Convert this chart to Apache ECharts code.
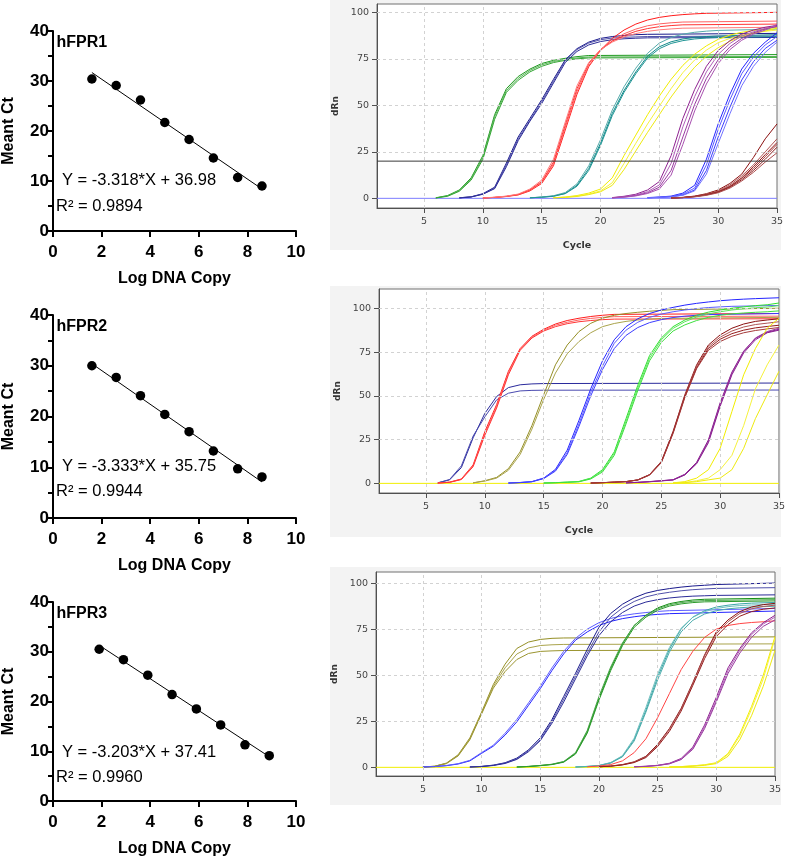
<!DOCTYPE html>
<html><head><meta charset="utf-8">
<script src="https://cdn.jsdelivr.net/npm/echarts@6/dist/echarts.min.js"></script>
<style>html,body{margin:0;padding:0;background:#fff}#c{width:788px;height:858px}</style>
</head><body><div id="c"></div>
<script>
// ---------- Standard curves (left) ----------
const geneNames = ['hFPR1', 'hFPR2', 'hFPR3'];
const equations = ['Y = -3.318*X + 36.98', 'Y = -3.333*X + 35.75', 'Y = -3.203*X + 37.41'];
const r2Values = ['0.9894', '0.9944', '0.9960'];
const p1Log = [1.6, 2.6, 3.6, 4.6, 5.6, 6.6, 7.6, 8.6];
const p1Ct = [30.4, 29.1, 26.2, 21.7, 18.3, 14.6, 10.7, 9.0];
const p1Fit = [[1.6, 31.7], [8.6, 8.4]];
const p2Log = [1.6, 2.6, 3.6, 4.6, 5.6, 6.6, 7.6, 8.6];
const p2Ct = [30.0, 27.7, 24.1, 20.4, 17.0, 13.2, 9.7, 8.1];
const p2Fit = [[1.6, 30.4], [8.6, 7.1]];
const p3Log = [1.9, 2.9, 3.9, 4.9, 5.9, 6.9, 7.9, 8.9];
const p3Ct = [30.5, 28.4, 25.3, 21.4, 18.5, 15.3, 11.3, 9.1];
const p3Fit = [[1.9, 31.3], [8.9, 8.9]];
const leftXTicks = [0, 2, 4, 6, 8, 10];
const leftYTicks = [0, 10, 20, 30, 40];
const rightXTicks = [5, 10, 15, 20, 25, 30, 35];
const rightYTicks = [0, 25, 50, 75, 100];

// ---------- Amplification curves (right) ----------
// each curve: [first cycle, dRn at consecutive cycles, dRn at cycle 35]
const p1Green = [
 [6,[0.3,1.5,4.5,11,23,45,59,65.5,69.5,72.5,74.2,75.3,76.2,76.8],77.3],
 [6,[0.2,1.3,4.2,10.5,22,44,58,64.5,68.8,71.8,73.6,74.7,75.5,76],76.3],
 [6,[0.2,1.1,3.8,9.8,21,42.5,57,63.5,68,71,73,74.2,75,75.5],75.8]];
const p1Navy = [
 [8,[0.3,0.8,2.5,6,19,33,43,53,64,74.5,80.5,84,86,87,87.6,88,88.2],88.7],
 [8,[0.3,0.8,2.3,5.5,18,32,42,52,63,74,80,83.5,85.3,86.2,86.6,86.8,87],87.3],
 [8,[0.2,0.7,2.2,5.2,17,31,41.5,51,62,73,79,82.5,84.3,85.3,85.8,86.1,86.3],86.5]];
const p1Red = [
 [10,[0.2,0.5,1,1.8,4,8,17.5,36.7,56,70.8,79.7,86,90.5,93.7,95.9,97.3,98.2,98.8,99.2,99.5],100],
 [10,[0.2,0.5,1,2,4.3,8.5,18.5,38,57.5,71.5,79.5,84.8,88.5,91,92.8,93.8,94.4,94.8],95.3],
 [10,[0.2,0.5,1.1,2.1,4.6,9,19.5,39.5,59,72.5,80,84.5,87.5,89.8,91.3,92.3,92.9,93.3],93.7],
 [10,[0.2,0.6,1.2,2.3,5,9.8,21,41,60.5,73,80,84,86.8,88.6,89.8,90.6,91.1,91.5],92]];
const p1Teal = [
 [14,[0.3,0.6,1.2,2.7,7,16,29.6,45.7,58,68,76.5,81.5,84.2,85.7,86.6,87,87.3],88],
 [14,[0.3,0.7,1.4,3.1,7.8,17.5,31.5,47.5,60,70,78,83.5,86.5,88.3,89.3,89.9,90.3],91],
 [14,[0.3,0.6,1.1,2.5,6.5,15,28.5,44.5,57,67,75.5,80.5,83.3,84.8,85.7,86.2,86.5],87]];
const p1Yellow = [
 [16,[0.3,0.7,1.5,2.8,5,11,23,34,45,55,64,71.5,77.5,82,85.5,87.8,89.3,90.3,91],92],
 [16,[0.3,0.6,1.2,2.3,4,8.4,18.8,29.6,40,49.6,59,67.6,74.4,79.7,83.7,86,87.8,89,89.8],90.5],
 [16,[0.3,0.5,1,2,3.5,7,15.5,25.5,35.5,45,54.5,63,70.5,76.5,81,84.5,87,88.8,90],91.5]];
const p1Purple = [
 [21,[0.4,1.1,2.2,4.5,9,23,43,58.5,71,79.5,84.8,88.3,90.5,92],93],
 [21,[0.3,0.9,1.8,3.6,7.2,18.8,38.5,54.7,68,77.4,83.3,87.3,89.6,91.4],92.3],
 [21,[0.3,0.7,1.5,3,6,15,33,50.5,64.5,74.5,81.5,86,89,91],92.5],
 [21,[0.2,0.6,1.3,2.6,5,12.5,29,47,61.5,72.5,80,85,88.3,90.5],93.5]];
const p1Blue = [
 [24,[0.4,0.7,1.2,2.8,7,21,40,56,69.5,78,84],89],
 [24,[0.3,0.6,1,2.3,5.5,18,37,53,67,76,82.5],87],
 [24,[0.3,0.5,0.8,1.8,4.5,15,33,49,63.6,73.5,80.6],85],
 [24,[0.3,0.5,0.8,1.6,4,13,29.5,45.5,60.5,71,78.5],84]];
const p1Maroon = [
 [26,[0.2,0.5,1.2,2.5,4.5,8,13,22,32],40],
 [26,[0.2,0.5,1.1,2.2,4,7.2,12,18,25],32],
 [26,[0.2,0.4,1,1.9,3.5,6.5,11,17,23.5],30],
 [26,[0.2,0.4,1,2,3.6,6.3,10.8,16,22.4],29],
 [26,[0.2,0.4,0.9,1.8,3.3,6,10,15,21],27.5],
 [26,[0.2,0.4,0.8,1.6,3,5.5,9.3,14,19.5],24.5]];
const p1Threshold = 20;

const p2Navy = [
 [6,[0.3,2,9,26,40,49.6,54.7,56.3,56.8,57],57.3],
 [6,[0.3,2.2,10,27,38,47.7,51.5,52.8,53.1,53.2],53.3]];
const p2Red = [
 [6,[0.2,0.7,2.5,10.5,29.6,45,64,77,84,88,91,93,94.3,95.3,96,96.5],97],
 [6,[0.2,0.6,2.3,10,28.5,44,63,76.5,83.5,87.5,90.3,92,93.3,94.2,94.8,95.2],95.5],
 [6,[0.2,0.6,2.2,9.5,27.5,43,62,76,83,87,89.5,91.2,92.3,93,93.5,93.8],94]];
const p2Olive = [
 [9,[0.3,1.5,3.4,8.4,18,33,50.6,67.7,79,86.7,91.4,94.3,96,97,97.7,98.3,98.8,99.2],100],
 [9,[0.3,1.3,3,7.5,16.5,31,48,63,74,81,86,89.5,91.3,92.5,93.3,93.8,94.2],94.8]];
const p2Blue = [
 [12,[0.2,0.5,1,3,8,19,36,54,70,82,89.5,94,97,99,100.5,101.8,102.8,103.6,104.3,104.8,105.2,105.5],106],
 [12,[0.2,0.5,1,3,7.5,17.5,34,52,67,80,87.5,92,94.8,96.7,98,99,99.8,100.4,100.8,101.1],101.6],
 [12,[0.2,0.4,0.9,2.7,7,16.5,32.5,50,65,77,84.5,89,91.8,93.5,94.7,95.5,96,96.4],97]];
const p2Lime = [
 [15,[0.2,0.4,0.7,1.1,3,7.8,18,37,56,73,83,89.5,93.3,96,97.8,99,100,100.8,101.5,102],103],
 [15,[0.2,0.4,0.7,1,2.8,7.2,17,35.5,54.5,71.5,82,88.5,92.3,95,96.8,98,99,99.7,100.3,100.7],101.5],
 [15,[0.2,0.4,0.6,0.9,2.5,6.5,16,34,53,70,80.5,87,90.5,93,94.8,96,96.8,97.3,97.7,98],98.5]];
const p2Maroon = [
 [19,[0.2,0.4,0.7,1,2,5,12.5,29.7,50.6,67.7,79,84.8,88.6,91,92.5,93.3],94],
 [19,[0.2,0.4,0.7,1,2,5,12.3,29.2,50,67,78,83.5,87,89.3,90.7,91.5],92.3],
 [19,[0.2,0.4,0.7,1,1.9,4.8,12,29,49.5,66,77,82.3,85.5,87.5,88.8,89.6],90.3],
 [19,[0.2,0.4,0.7,1,1.9,4.7,11.8,28.5,49,65.5,76,81,84,86,87.3,88.2],89]];
const p2Purple = [
 [22,[0.3,0.6,1,1.5,2.1,5.2,12,24.8,46,63.5,75.5,82.8,86.3],88],
 [22,[0.3,0.6,1,1.5,2,5,11.6,24,45,63,75.3,83,86.7],88.6],
 [22,[0.3,0.5,0.9,1.4,1.9,4.8,11.2,23.2,44,62,74.5,82,86],87.5]];
const p2Yellow = [
 [26,[0.3,1,3,7.8,20,41,62,77,88.6],94.3],
 [26,[0.2,0.5,1.5,3,7.8,16,33,54,67.7],79],
 [26,[0.2,0.4,1,2,3,7.8,20,37,50.6],64]];

const p3Olive = [
 [5,[0.2,0.6,2.3,6.8,16,30,45,56,64.5,68,69.4,70,70.2],70.8],
 [5,[0.2,0.6,2.2,6.5,15.5,29.5,44,54,61.5,64.8,66.1,66.5,66.7],67],
 [5,[0.2,0.5,2,6.2,15,29,43,52,58.5,61.8,62.9,63.2,63.4],63.6]];
const p3Blue = [
 [5,[0.2,0.4,0.9,1.8,3.5,7.6,11.5,17.5,24.7,33.7,42.7,52.6,61.6,69,73.5,77,79.2,80.7,81.7,82.5,83,83.4],84.8],
 [5,[0.2,0.4,1,2,3.8,8,12,18.5,26,35,44,54,63,70,75,78.5,80.8,82.3,83.3,84,84.6,85],86.2]];
const p3Navy = [
 [9,[0.2,0.5,1.2,2.5,5,9.5,16,26,38.5,51,64,76,83.5,88.5,92,94.5,96,97,97.8,98.4,98.8,99.2],100],
 [9,[0.2,0.5,1.1,2.3,4.6,9,15,25,37,49.5,62,73.5,81.5,86.5,90,92.5,94,95,95.8,96.4,96.8,97.1],97.5],
 [9,[0.2,0.4,1,2.1,4.3,8.5,14.5,24,35.5,48,60.5,71.5,79,84,87.5,89.7,91,91.9,92.5,92.9,93.1,93.3],93.6]];
const p3Green = [
 [13,[0.2,0.5,1,1.6,3,7.6,19.3,37.4,53.6,67,77,82.5,86.5,88.8,90,90.8,91.2],91.8],
 [13,[0.2,0.5,1,1.7,3.2,8,20,38.5,54.5,67.5,77,82.3,86,88.2,89.4,90.1,90.5],91],
 [13,[0.2,0.4,0.9,1.5,2.8,7.2,18.5,36.5,52.5,66,76,81.5,85.3,87.5,88.7,89.4,89.8],90.3]];
const p3Teal = [
 [18,[0.2,0.5,1,2.5,6,15,31,49,64,75,81.5,85,87,88,88.7,89.1],89.5],
 [18,[0.2,0.5,1,2.6,6.3,15.8,32.5,50.5,65,75.5,81.5,84.5,86.2,87.2,87.8,88.1],88.5],
 [18,[0.2,0.4,0.9,2.3,5.7,14.3,30,47.5,62.5,73.5,79.8,83.2,85,86,86.6,87],87.4]];
const p3Red = [
 [19,[0.3,0.7,1.5,3.5,8,15.5,27,40,53,63,70.5,75,77,78,78.6,79],79.5]];
const p3Maroon = [
 [20,[0.3,0.7,1.5,3,6,12.5,21,32,46,61,73.5,80,84.5,87,88.3],89],
 [20,[0.3,0.7,1.4,2.8,5.7,12,20.5,31.5,45.5,60.5,72.5,79,83.5,86,87.3],88],
 [20,[0.3,0.6,1.3,2.6,5.3,11.3,19.5,30.5,44.5,59,71,77.5,82,84.5,85.8],86.5]];
const p3Purple = [
 [23,[0.3,0.6,1.1,2.2,4.8,11,23,38,54,64.5,73,78.5],82.5],
 [23,[0.3,0.5,1,2,4.4,10.3,22,36.5,52.5,63.5,72,77.8],81.5],
 [23,[0.3,0.5,1,1.9,4.2,9.8,21,35.5,51,62,70.5,76.5],80]];
const p3Yellow = [
 [26,[0.2,0.4,0.8,1.4,2.5,7.5,18,33,50],71],
 [26,[0.2,0.4,0.8,1.3,2.3,7,17,31.5,48],70],
 [26,[0.2,0.3,0.6,1.1,2,6,15,28,44],63.5]];

// ---------- styles ----------
const TONES = {
  green: ['#1f9a1f', '#55b355', '#34a634'],
  navy: ['#1a1a8c', '#5050aa', '#2b2b98'],
  red: ['#ff1c1c', '#ff6060', '#ff3434', '#ff7a7a'],
  teal: ['#128a8a', '#55abab', '#1f9494'],
  yellow: ['#f2ee00', '#f6f23c', '#eeea10'],
  purple: ['#8e2090', '#b060b8', '#9a3aa0', '#a850b0'],
  blue: ['#2424ff', '#5c5cff', '#3c3cff', '#7272ff'],
  maroon: ['#8b1010', '#b05555', '#961c1c', '#a53a3a', '#8b2020', '#ad4c4c'],
  olive: ['#958f25', '#aaa44c', '#9b9530'],
  lime: ['#2ee02e', '#5ce85c', '#3ee03e'],
  navy2: ['#2a2a9c', '#4a4ab0'],
  green3: ['#128e12', '#4ca84c', '#2a9a2a'],
  teal3: ['#3aa6a6', '#70c0c0', '#4aacac'],
  red3: ['#ff4545'],
  purple2: ['#84148a', '#9a3aa0', '#8a1e90']
};
const PANELS = [
  {groups: [['green', p1Green], ['navy', p1Navy], ['red', p1Red], ['teal', p1Teal], ['yellow', p1Yellow], ['purple', p1Purple], ['blue', p1Blue], ['maroon', p1Maroon]],
   base: '#7c7cff', ymin: -5.2, ymax: 104.5, grid: {left: 377, top: 4, width: 400, height: 204}, cycle: true, bg: [0, 250]},
  {groups: [['navy2', p2Navy], ['red', p2Red], ['olive', p2Olive], ['blue', p2Blue], ['lime', p2Lime], ['maroon', p2Maroon], ['purple2', p2Purple], ['yellow', p2Yellow]],
   base: '#f0ee00', ymin: -5.5, ymax: 111, grid: {left: 379, top: 289, width: 401, height: 204}, cycle: true, bg: [286, 537]},
  {groups: [['olive', p3Olive], ['blue', p3Blue], ['navy', p3Navy], ['green3', p3Green], ['teal3', p3Teal], ['red3', p3Red], ['maroon', p3Maroon], ['purple', p3Purple], ['yellow', p3Yellow]],
   base: '#f0ee00', ymin: -4.7, ymax: 106, grid: {left: 376, top: 572, width: 399, height: 204}, cycle: false, bg: [567, 805]}
];
const LEFT = [
  {log: p1Log, ct: p1Ct, fit: p1Fit, grid: {left: 52, top: 31, width: 244, height: 200}, gene: 42.7, eq: 180.3, r2: 206.7},
  {log: p2Log, ct: p2Ct, fit: p2Fit, grid: {left: 52, top: 315, width: 244, height: 203}, gene: 326.7, eq: 466.3, r2: 491.7},
  {log: p3Log, ct: p3Ct, fit: p3Fit, grid: {left: 52, top: 602, width: 244, height: 201}, gene: 614, eq: 752.3, r2: 777.7}
];

const FONT = 'Liberation Sans, Arial, sans-serif';
const SFONT = 'DejaVu Sans, Verdana, sans-serif';
const grids = [], xAxes = [], yAxes = [], series = [], titles = [], graphics = [];

LEFT.forEach((p, i) => {
  grids.push(Object.assign({containLabel: false}, p.grid));
  xAxes.push({gridIndex: i, type: 'value', min: leftXTicks[0], max: leftXTicks[leftXTicks.length - 1], interval: leftXTicks[1] - leftXTicks[0],
    axisLine: {onZero: false, lineStyle: {color: '#000', width: 2}},
    axisTick: {length: 6, lineStyle: {color: '#000', width: 2}},
    axisLabel: {color: '#000', fontWeight: 'bold', fontSize: 17, fontFamily: FONT, margin: 13},
    splitLine: {show: false},
    name: 'Log DNA Copy', nameLocation: 'middle', nameGap: 40,
    nameTextStyle: {color: '#000', fontWeight: 'bold', fontSize: 16, fontFamily: FONT}});
  yAxes.push({gridIndex: i, type: 'value', min: leftYTicks[0], max: leftYTicks[leftYTicks.length - 1], interval: leftYTicks[1] - leftYTicks[0],
    axisLine: {onZero: false, lineStyle: {color: '#000', width: 2}},
    axisTick: {length: 5, lineStyle: {color: '#000', width: 2}},
    minorTick: {show: true, splitNumber: 2, length: 5, lineStyle: {color: '#000', width: 2}},
    axisLabel: {color: '#000', fontWeight: 'bold', fontSize: 17, fontFamily: FONT, margin: 4},
    splitLine: {show: false},
    name: 'Meant Ct', nameLocation: 'middle', nameGap: 36, nameRotate: 90,
    nameTextStyle: {color: '#000', fontWeight: 'bold', fontSize: 16, fontFamily: FONT}});
  series.push({type: 'line', xAxisIndex: i, yAxisIndex: i, data: p.fit, symbol: 'none', lineStyle: {color: '#000', width: 1}, silent: true});
  series.push({type: 'scatter', xAxisIndex: i, yAxisIndex: i, data: p.log.map((x, k) => [x, p.ct[k]]), symbolSize: 9.5,
    itemStyle: {color: '#000', opacity: 1}, silent: true});
  titles.push({text: geneNames[i], left: 56.5, top: p.gene - 8, padding: 0,
    textStyle: {fontSize: 16, fontWeight: 'bold', color: '#000', fontFamily: FONT, lineHeight: 16}});
  titles.push({text: equations[i], left: 62, top: p.eq - 8.5, padding: 0,
    textStyle: {fontSize: 16.5, fontWeight: 'normal', color: '#000', fontFamily: FONT, lineHeight: 17}});
  titles.push({text: 'R\u00B2 = ' + r2Values[i], left: 56, top: p.r2 - 8.5, padding: 0,
    textStyle: {fontSize: 16.5, fontWeight: 'normal', color: '#000', fontFamily: FONT, lineHeight: 17}});
});

function curveData(c) {
  const s = c[0], vals = c[1], end = c[2];
  const d = vals.map((v, k) => [s + k, v]);
  if (s + vals.length - 1 < 35) d.push([35, end]);
  return d;
}

PANELS.forEach((p, j) => {
  const gi = j + 3;
  graphics.push({type: 'rect', shape: {x: 330, y: p.bg[0], width: 451, height: p.bg[1] - p.bg[0]},
    style: {fill: '#f3f3f3'}, z: -10, silent: true});
  grids.push(Object.assign({show: true, backgroundColor: '#fff', borderColor: '#707070', borderWidth: 1}, p.grid));
  xAxes.push({gridIndex: gi, type: 'value', min: 1, max: 35,
    axisLine: {onZero: false, lineStyle: {color: '#505050', width: 1}},
    axisTick: {customValues: rightXTicks, length: 5, lineStyle: {color: '#505050'}},
    axisLabel: {customValues: rightXTicks, color: '#444', fontSize: 9.5, fontFamily: SFONT, margin: 9},
    splitLine: {show: false},
    name: p.cycle ? 'Cycle' : '', nameLocation: 'middle', nameGap: 33,
    nameTextStyle: {color: '#333', fontWeight: 'bold', fontSize: 9.5, fontFamily: SFONT}});
  yAxes.push({gridIndex: gi, type: 'value', min: p.ymin, max: p.ymax,
    axisLine: {onZero: false, lineStyle: {color: '#505050', width: 1}},
    axisTick: {customValues: rightYTicks, length: 5, lineStyle: {color: '#505050'}},
    axisLabel: {customValues: rightYTicks, color: '#444', fontSize: 9.5, fontFamily: SFONT, margin: 8},
    splitLine: {show: false},
    name: 'dRn', nameLocation: 'middle', nameGap: 32, nameRotate: 90,
    nameTextStyle: {color: '#333', fontWeight: 'bold', fontSize: 9, fontFamily: SFONT}});
  // grid lines + baseline
  series.push({type: 'line', xAxisIndex: gi, yAxisIndex: gi, data: [[1, 0], [35, 0]], symbol: 'none',
    lineStyle: {color: p.base, width: 1}, silent: true,
    markLine: {silent: true, symbol: ['none', 'none'], label: {show: false}, animation: false,
      lineStyle: {type: [3, 3], color: '#d2d2d2', width: 1},
      emphasis: {disabled: true},
      data: rightXTicks.filter(v => v < 35).map(v => ({xAxis: v})).concat(rightYTicks.filter(v => v > 0).map(v => ({yAxis: v})))}});
  p.groups.forEach(g => {
    const tones = TONES[g[0]];
    g[1].forEach((c, k) => {
      series.push({type: 'line', xAxisIndex: gi, yAxisIndex: gi, data: curveData(c), symbol: 'none',
        lineStyle: {color: tones[k % tones.length], width: 1}, silent: true});
    });
  });
  if (j === 0) {
    series.push({type: 'line', xAxisIndex: gi, yAxisIndex: gi, data: [[1, p1Threshold], [35, p1Threshold]], symbol: 'none',
      lineStyle: {color: '#3a3a3a', width: 1}, silent: true});
  }
});

const chart = echarts.init(document.getElementById('c'), null, {renderer: 'canvas'});
chart.setOption({animation: false, backgroundColor: '#fff', grid: grids, xAxis: xAxes, yAxis: yAxes, title: titles, graphic: graphics, series: series});
</script></body></html>
